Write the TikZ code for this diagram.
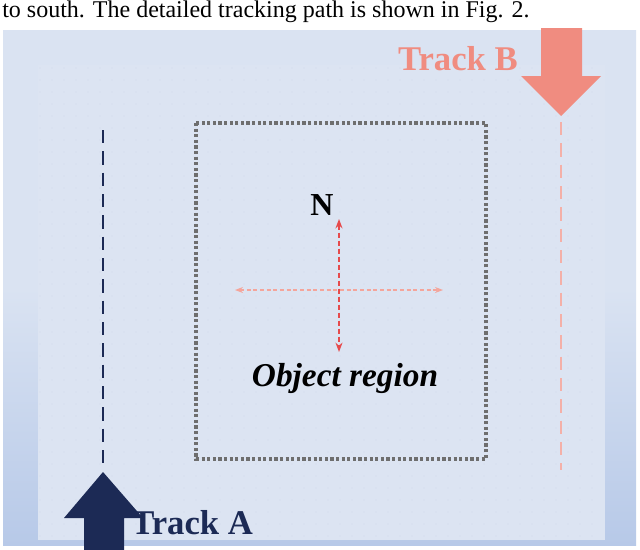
\documentclass[tikz,border=0pt]{standalone}
\usepackage{fontspec}
\setmainfont{Liberation Serif}
\usetikzlibrary{arrows.meta}
\definecolor{bgA}{HTML}{DAE3F2}
\definecolor{bgB}{HTML}{B7C9E8}
\definecolor{inner}{HTML}{DCE4F2}
\definecolor{navy}{HTML}{1C2A55}
\definecolor{salmon}{HTML}{F08C80}
\definecolor{pinkline}{HTML}{F4B0A8}
\definecolor{redarrow}{HTML}{E64A4C}
\definecolor{lightpink}{HTML}{F4A59B}
\definecolor{boxgray}{HTML}{6E6E6E}
\tikzset{lbl/.style={font=\bfseries\fontsize{26}{30}\selectfont, inner sep=0pt}}
\begin{document}
\begin{tikzpicture}[x=0.75pt,y=-0.75pt]
\useasboundingbox (0,0) rectangle (640,550);
\node[anchor=base west, inner sep=0pt, font=\fontsize{18}{22}\selectfont] (cap) at (2,17) {to south. The detailed tracking path is shown in Fig. 2.};
\shade[top color=bgA, bottom color=bgB, middle color=bgA] (3,30) rectangle (636,545);
\fill[inner] (38,65) rectangle (605,540);
\foreach \x in {40,52,...,600} \foreach \y in {68,80,...,536} \fill[bgB!80!black!40!bgA] (\x,\y) circle (0.45);
\draw[boxgray, line width=2.4pt, dash pattern=on 2.4pt off 1.8pt] (196,123) rectangle (486,459);
\node (boxc) at (341,291) {};
% Track A
\draw[navy, line width=1.3pt, dash pattern=on 10pt off 6pt] (103,130) -- (103,470);
\fill[navy] (103,472) -- (143,518) -- (124,518) -- (124,550) -- (84,550) -- (84,518) -- (64,518) -- cycle;
\node[lbl, navy, anchor=base west] (ta) at (131,534) {Track A};
% Track B
\draw[pinkline, line width=1.3pt, dash pattern=on 10pt off 6pt] (561,122) -- (561,470);
\fill[salmon] (541,28) -- (582,28) -- (582,76) -- (601,76) -- (561,116) -- (521,76) -- (541,76) -- cycle;
\node[lbl, salmon, anchor=base east] (tb) at (518,70) {Track B};
% compass
\node[lbl, font=\bfseries\fontsize{24}{28}\selectfont] (n) at (322,205) {N};
\coordinate (hs) at (235,290); \coordinate (he) at (443,290);
\coordinate (vs) at (339,219); \coordinate (ve) at (339,352);
\draw[lightpink, line width=1pt, dash pattern=on 3pt off 2pt, {Stealth[length=6pt]}-{Stealth[length=6pt]}] (hs) -- (he);
\draw[redarrow, line width=1.3pt, dash pattern=on 4pt off 2pt, {Stealth[length=7pt]}-{Stealth[length=7pt]}] (vs) -- (ve);
\node[inner sep=0pt, font=\bfseries\itshape\fontsize{25}{30}\selectfont] (obj) at (345,378) {Object region};
\end{tikzpicture}
\end{document}
